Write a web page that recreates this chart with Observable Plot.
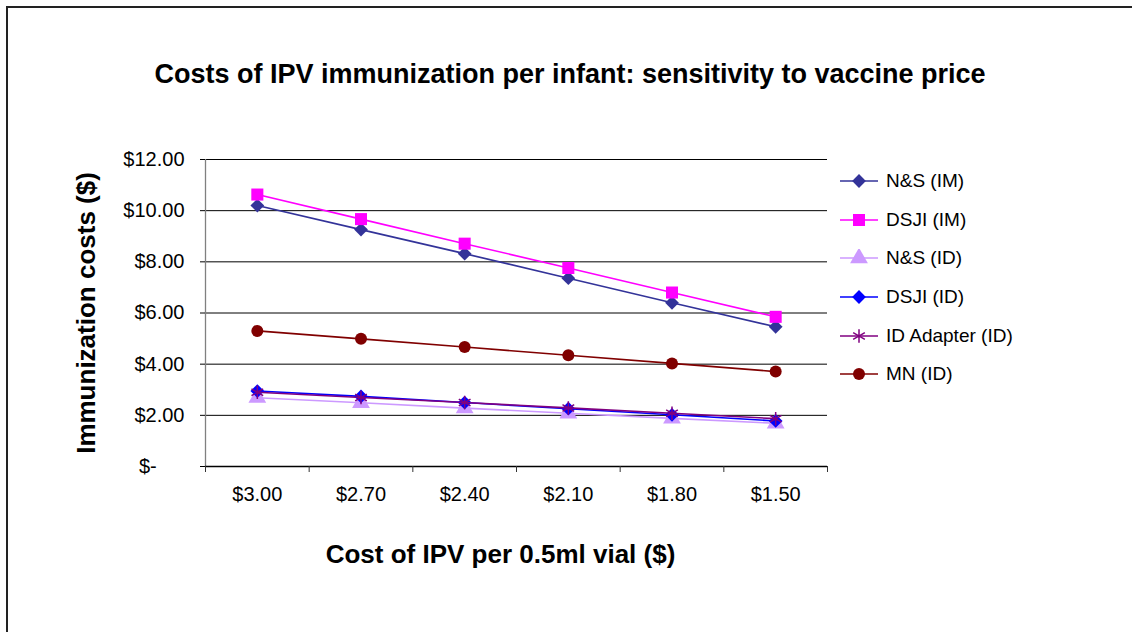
<!DOCTYPE html>
<html>
<head>
<meta charset="utf-8">
<script src="https://cdn.jsdelivr.net/npm/d3@7"></script>
<script src="https://cdn.jsdelivr.net/npm/@observablehq/plot@0.6"></script>
<style>
  html, body { margin: 0; padding: 0; background: #fff; overflow: hidden; }
  #wrap { position: relative; width: 1132px; height: 632px; overflow: hidden; font-family: Arial, "Liberation Sans", sans-serif; }
  #ftop { position: absolute; left: 6px; top: 6px; width: 1200px; height: 1.5px; background: #222; }
  #fleft { position: absolute; left: 6px; top: 6px; width: 1.5px; height: 700px; background: #222; }
  #title { position: absolute; left: 0; width: 1140px; top: 58px; text-align: center; font-weight: bold; font-size: 27px; line-height: 32px; color: #000; }
  #chart { position: absolute; left: 0; top: 0; }
  #legend { position: absolute; left: 838px; top: 162px; }
  .row { display: flex; align-items: center; height: 38.6px; font-size: 19px; color: #000; }
  .row svg { margin-right: 6px; }
</style>
</head>
<body>
<div id="wrap">
  <div id="ftop"></div>
  <div id="fleft"></div>
  <div id="chart"></div>
  <div id="title">Costs of IPV immunization per infant: sensitivity to vaccine price</div>
  <div id="legend"></div>
</div>
<script>
// ---- data ----
const prices = ["$3.00", "$2.70", "$2.40", "$2.10", "$1.80", "$1.50"];
const seriesNames = ["N&S (IM)", "DSJI (IM)", "N&S (ID)", "DSJI (ID)", "ID Adapter (ID)", "MN (ID)"];
const nsIM      = [10.20, 9.26, 8.32, 7.36, 6.40, 5.46];
const dsjiIM    = [10.63, 9.67, 8.71, 7.76, 6.80, 5.85];
const nsID      = [2.69, 2.49, 2.28, 2.08, 1.88, 1.69];
const dsjiID    = [2.95, 2.74, 2.50, 2.26, 2.02, 1.78];
const idAdapter = [2.90, 2.70, 2.50, 2.29, 2.08, 1.87];
const mnID      = [5.30, 4.99, 4.67, 4.35, 4.03, 3.71];
const yTicks = [0, 2, 4, 6, 8, 10, 12];

// ---- styles ----
const seriesValues = [nsIM, dsjiIM, nsID, dsjiID, idAdapter, mnID];
const colors  = ["#333399", "#FF00FF", "#CC99FF", "#0000FF", "#800080", "#800000"];
const symbols = ["diamond2", "square", "triangle", "diamond2", "asterisk", "circle"];
const radii   = [6.2, 6.8, 6.6, 6.2, 6.4, 6.0];
const d3sym = {diamond2: d3.symbolDiamond2, square: d3.symbolSquare, triangle: d3.symbolTriangle, asterisk: d3.symbolAsterisk, circle: d3.symbolCircle};

const table = seriesNames.map((name, s) => seriesValues[s].map((v, i) => ({series: name, s, i, price: prices[i], value: v})));

const fmt = d => d === 0 ? "$-\u00a0\u00a0\u00a0\u00a0\u00a0" : "$" + d.toFixed(2);

const marks = [
  Plot.ruleY(yTicks.filter(d => d > 0), {stroke: "#000", strokeWidth: 1}),
  Plot.ruleX([-0.5], {y1: 0, y2: 12, stroke: "#808080", strokeWidth: 1.3}),
  Plot.ruleY([0], {stroke: "#000", strokeWidth: 1.3}),
  Plot.axisY({ticks: yTicks, tickFormat: fmt, tickSize: 5, tickPadding: 16,
    label: "Immunization costs ($)", labelAnchor: "center", labelArrow: "none", labelOffset: 129}),
  Plot.axisX({ticks: d3.range(6), tickFormat: i => prices[i], tickSize: 0, tickPadding: 20,
    label: "Cost of IPV per 0.5ml vial ($)", labelAnchor: "center", labelArrow: "none", labelOffset: 96}),
  Plot.axisX({ticks: d3.range(-0.5, 6, 1), tickFormat: () => "", tickSize: 6, stroke: "#333", label: null})
];
table.forEach((rows, s) => {
  marks.push(Plot.line(rows, {x: "i", y: "value", stroke: colors[s], strokeWidth: 1.6}));
  const isStroke = symbols[s] === "asterisk";
  marks.push(Plot.dot(rows, {x: "i", y: "value", symbol: () => symbols[s], r: radii[s],
    fill: isStroke ? "none" : colors[s], stroke: isStroke ? colors[s] : "none", strokeWidth: isStroke ? 1.5 : 0}));
});

const chart = Plot.plot({
  width: 1132, height: 632,
  marginLeft: 205, marginRight: 305, marginTop: 159, marginBottom: 166,
  style: {fontFamily: "Arial, 'Liberation Sans', sans-serif", fontSize: "20px", color: "#000", background: "transparent", overflow: "visible"},
  x: {domain: [-0.5, 5.5]},
  y: {domain: [0, 12]},
  marks
});
// bold axis titles
chart.querySelectorAll("[aria-label='y-axis label'] text, [aria-label='x-axis label'] text").forEach(t => {
  t.style.fontWeight = "bold"; t.style.fontSize = "26px";
});
const xl = chart.querySelector("[aria-label='x-axis label']");
if (xl) xl.setAttribute("transform", ((xl.getAttribute("transform") || "") + " translate(-16,0)").trim());
document.getElementById("chart").appendChild(chart);

// legend
const legend = d3.select("#legend");
seriesNames.forEach((name, s) => {
  const row = legend.append("div").attr("class", "row");
  const svg = row.append("svg").attr("width", 42).attr("height", 18);
  svg.append("line").attr("x1", 2).attr("x2", 40).attr("y1", 9).attr("y2", 9).attr("stroke", colors[s]).attr("stroke-width", 1.5);
  const isStroke = symbols[s] === "asterisk";
  svg.append("path").attr("transform", "translate(21,9)")
    .attr("d", d3.symbol(d3sym[symbols[s]], Math.PI * radii[s] * radii[s])())
    .attr("fill", isStroke ? "none" : colors[s]).attr("stroke", isStroke ? colors[s] : "none").attr("stroke-width", 1.5);
  row.append("span").text(name);
});
</script>
</body>
</html>
